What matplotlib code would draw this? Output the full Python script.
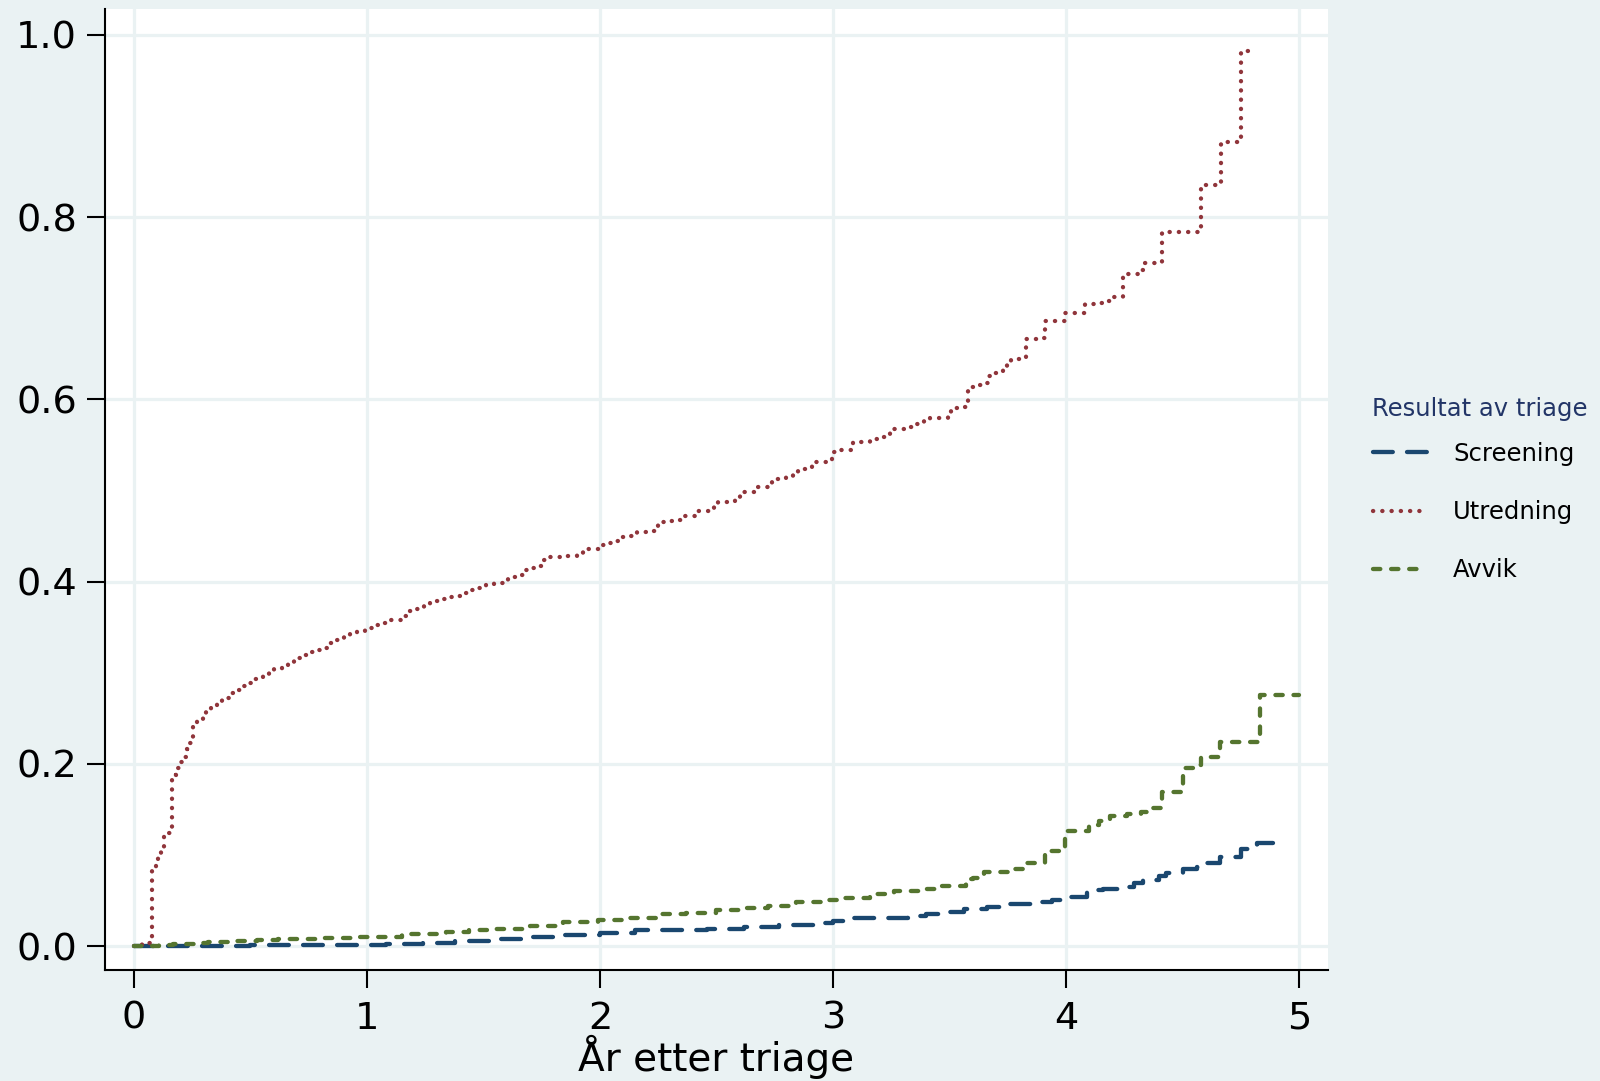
import matplotlib.pyplot as plt

plt.rcParams["font.family"] = ["DejaVu Sans"]

# Cumulative hazard by triage result: step times (years) and hazard after each step
screening_t = [0, 0.5, 0.85, 0.98, 1.08, 1.24, 1.38, 1.54, 1.69, 1.84, 2.0, 2.15,
               2.3, 2.46, 2.62, 2.77, 2.92, 3.0, 3.09, 3.24, 3.32, 3.4, 3.49, 3.56,
               3.66, 3.75, 3.86, 3.94, 4.0, 4.09, 4.16, 4.25, 4.29, 4.33, 4.4, 4.43,
               4.5, 4.56, 4.59, 4.66, 4.75, 4.82, 4.89]
screening_h = [0, 0.0007, 0.001, 0.0015, 0.0026, 0.0037, 0.006, 0.008, 0.0099, 0.012,
               0.0146, 0.0172, 0.0178, 0.0187, 0.0205, 0.023, 0.0256, 0.0278, 0.0304,
               0.031, 0.033, 0.035, 0.0376, 0.0405, 0.043, 0.0457, 0.0486, 0.051,
               0.054, 0.061, 0.063, 0.065, 0.069, 0.073, 0.077, 0.08, 0.085, 0.087,
               0.0915, 0.098, 0.106, 0.113, 0.113]

utredning_t = [0, 0.037, 0.077, 0.094, 0.104, 0.115, 0.13, 0.162, 0.18, 0.193, 0.21,
               0.227, 0.239, 0.252, 0.269, 0.295, 0.309, 0.333, 0.356, 0.378, 0.408,
               0.433, 0.462, 0.49, 0.519, 0.552, 0.578, 0.6, 0.636, 0.661, 0.687, 0.72,
               0.747, 0.784, 0.815, 0.837, 0.87, 0.9, 0.927, 0.957, 0.991, 1.026, 1.063,
               1.09, 1.155, 1.18, 1.215, 1.245, 1.27, 1.31, 1.342, 1.378, 1.41, 1.442,
               1.477, 1.51, 1.545, 1.582, 1.604, 1.64, 1.668, 1.7, 1.734, 1.75, 1.785,
               1.86, 1.9, 1.927, 1.996, 2.035, 2.072, 2.094, 2.13, 2.16, 2.2, 2.24, 2.25,
               2.288, 2.326, 2.35, 2.415, 2.49, 2.506, 2.55, 2.58, 2.6, 2.665, 2.737,
               2.758, 2.797, 2.828, 2.85, 2.91, 2.99, 2.994, 3.033, 3.084, 3.159, 3.193,
               3.245, 3.327, 3.355, 3.392, 3.416, 3.495, 3.506, 3.542, 3.578, 3.62,
               3.652, 3.663, 3.696, 3.73, 3.745, 3.763, 3.83, 3.888, 3.911, 3.996,
               4.082, 4.127, 4.163, 4.19, 4.246, 4.327, 4.335, 4.412, 4.578, 4.664,
               4.75, 4.8]
utredning_h = [0, 0.003, 0.086, 0.092, 0.099, 0.109, 0.124, 0.188, 0.195, 0.202, 0.208,
               0.216, 0.223, 0.24, 0.247, 0.252, 0.258, 0.262, 0.267, 0.272, 0.278,
               0.281, 0.285, 0.289, 0.293, 0.296, 0.3, 0.304, 0.306, 0.312, 0.316,
               0.319, 0.323, 0.325, 0.327, 0.333, 0.336, 0.34, 0.344, 0.346, 0.349,
               0.352, 0.355, 0.358, 0.362, 0.368, 0.37, 0.374, 0.379, 0.381, 0.383,
               0.384, 0.388, 0.391, 0.393, 0.397, 0.398, 0.401, 0.405, 0.407, 0.413,
               0.415, 0.417, 0.424, 0.427, 0.428, 0.431, 0.436, 0.44, 0.442, 0.444,
               0.449, 0.45, 0.454, 0.455, 0.457, 0.465, 0.466, 0.468, 0.472, 0.478,
               0.482, 0.487, 0.488, 0.493, 0.498, 0.504, 0.509, 0.513, 0.515, 0.517,
               0.524, 0.531, 0.532, 0.542, 0.544, 0.553, 0.556, 0.559, 0.568, 0.57,
               0.573, 0.576, 0.58, 0.582, 0.59, 0.592, 0.614, 0.616, 0.618, 0.626,
               0.629, 0.632, 0.638, 0.644, 0.666, 0.667, 0.686, 0.695, 0.705, 0.706,
               0.708, 0.712, 0.738, 0.742, 0.75, 0.784, 0.835, 0.883, 0.982, 0.982]

avvik_t = [0, 0.11, 0.17, 0.26, 0.32, 0.44, 0.53, 0.62, 0.79, 0.96, 1.05, 1.15, 1.34,
           1.44, 1.55, 1.7, 1.84, 1.99, 2.12, 2.25, 2.37, 2.5, 2.6, 2.72, 2.84, 2.96,
           3.02, 3.16, 3.26, 3.38, 3.45, 3.57, 3.6, 3.65, 3.77, 3.82, 3.91, 3.995,
           4.1, 4.14, 4.19, 4.26, 4.32, 4.35, 4.41, 4.5, 4.55, 4.58, 4.66, 4.833, 5.0]
avvik_h = [0, 0.0007, 0.0018, 0.003, 0.0044, 0.006, 0.0066, 0.0073, 0.0084, 0.0099,
           0.0102, 0.0128, 0.0154, 0.0172, 0.019, 0.022, 0.0263, 0.0285, 0.031, 0.0348,
           0.0366, 0.0395, 0.042, 0.044, 0.048, 0.0505, 0.053, 0.0567, 0.06, 0.063,
           0.066, 0.074, 0.075, 0.0816, 0.085, 0.0907, 0.104, 0.126, 0.133, 0.137,
           0.1427, 0.145, 0.147, 0.151, 0.169, 0.195, 0.199, 0.207, 0.224, 0.2755,
           0.2755]

x_ticks = [0, 1, 2, 3, 4, 5]
y_ticks = [0.0, 0.2, 0.4, 0.6, 0.8, 1.0]
y_ticklabels = ["0.0", "0.2", "0.4", "0.6", "0.8", "1.0"]

BG = "#EAF2F3"
NAVY = "#1A476F"
MAROON = "#90353B"
GREEN = "#55752F"
LW = 3.1

fig = plt.figure(figsize=(16, 10.81), dpi=100, facecolor=BG)
ax = fig.add_axes([0.0656, 0.1027, 0.7644, 0.889])
ax.set_facecolor("white")

ax.step(screening_t, screening_h, where="post", color=NAVY, lw=LW,
        dashes=(4.6, 3.3), dash_capstyle="round", label="Screening")
ax.step(utredning_t, utredning_h, where="post", color=MAROON, lw=LW,
        dashes=(0.05, 2.1), dash_capstyle="round", label="Utredning")
ax.step(avvik_t, avvik_h, where="post", color=GREEN, lw=LW,
        dashes=(1.7, 2.5), dash_capstyle="round", label="Avvik")

ax.set_xlim(-0.124, 5.124)
ax.set_ylim(-0.0263, 1.0285)
ax.set_xticks(x_ticks)
ax.set_yticks(y_ticks)
ax.set_yticklabels(y_ticklabels)
ax.grid(True, color=BG, lw=2.3)
ax.set_axisbelow(True)

for side in ["top", "right"]:
    ax.spines[side].set_visible(False)
for side in ["left", "bottom"]:
    ax.spines[side].set_linewidth(1.5)
ax.tick_params(axis="both", direction="out", length=13, width=1.5,
               labelsize=27.5, colors="black")
ax.tick_params(axis="x", pad=9)
ax.tick_params(axis="y", pad=7)

fig.text(0.4478, 0.0093, "År etter triage", fontsize=28, ha="center", va="baseline")

# legend block to the right of the plot
fig.text(0.8575, 1 - 409 / 1081, "Resultat av triage", fontsize=17.5,
         color="#223567", ha="left", va="center")
ax.legend(loc="upper left", bbox_to_anchor=(0.858, 1 - 442 / 1081),
          bbox_transform=fig.transFigure, frameon=False, fontsize=17.5,
          borderpad=0, borderaxespad=0, handlelength=2.25, handletextpad=1.05,
          labelspacing=1.4)

fig.savefig("out.png", dpi=100, facecolor=BG)
